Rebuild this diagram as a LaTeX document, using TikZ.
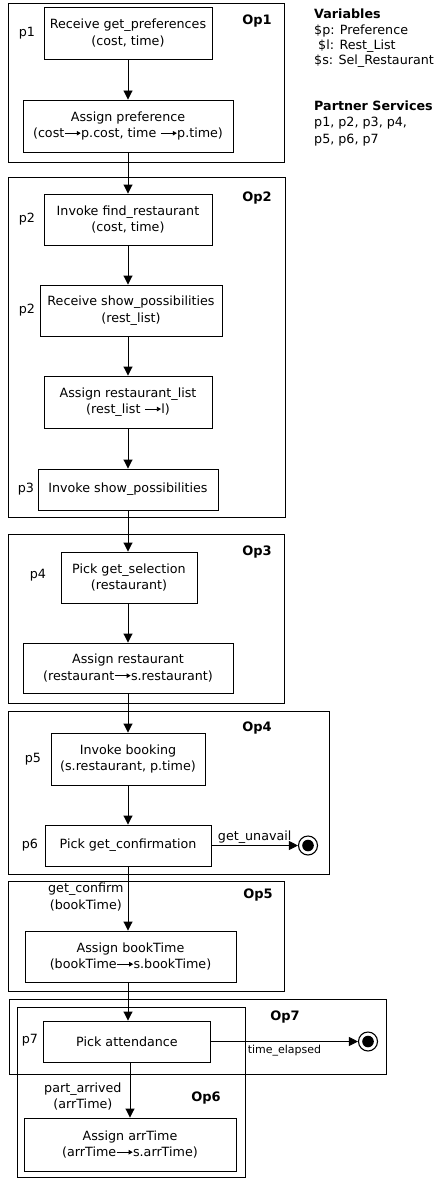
\documentclass[tikz,border=0pt]{standalone}
\usepackage{fontspec}
\setmainfont{DejaVu Sans}
\usetikzlibrary{arrows.meta}
% small assignment arrow used inside the activity labels
\newcommand\asgn{\tikz[baseline=-4.6pt]\draw[line width=0.8pt,-{Triangle[length=4pt,width=4.5pt]}] (0pt,0pt)--(16pt,0pt);}
\begin{document}
\begin{tikzpicture}[x=1pt,y=-1pt,
  txt/.style={font=\fontsize{12.7}{16.6}\selectfont},
  act/.style={draw, line width=0.9pt, align=center, inner sep=0pt, txt},
  opbox/.style={draw, line width=1pt, anchor=north west, inner sep=0pt},
  oplbl/.style={font=\fontsize{13}{15}\selectfont\bfseries},
  plbl/.style={txt},
  side/.style={txt, anchor=base west, inner sep=0pt},
  arr/.style={line width=0.9pt, -{Triangle[length=9pt,width=9pt]}},
  final/.style={circle, draw, line width=1.1pt, minimum size=19pt, inner sep=0pt,
    path picture={\fill (path picture bounding box.center) circle (5.8pt);}},
]
\useasboundingbox (0,0) rectangle (447,1180);

% operation frames
\node[opbox, minimum width=276pt, minimum height=159pt] (op1) at (8,3) {};
\node[opbox, minimum width=277pt, minimum height=340pt] (op2) at (8,177) {};
\node[opbox, minimum width=276pt, minimum height=169pt] (op3) at (8,534) {};
\node[opbox, minimum width=321pt, minimum height=163pt] (op4) at (8,711) {};
\node[opbox, minimum width=276pt, minimum height=110pt] (op5) at (8,881) {};
\node[opbox, minimum width=377pt, minimum height=75pt] (op7) at (9,999) {};
\node[opbox, minimum width=228pt, minimum height=170pt] (op6) at (17,1007) {};

\node[oplbl] (op1l) at (257,21) {Op1};
\node[oplbl] (op2l) at (257,198) {Op2};
\node[oplbl] (op3l) at (257,552) {Op3};
\node[oplbl] (op4l) at (257,728) {Op4};
\node[oplbl] (op5l) at (258,895) {Op5};
\node[oplbl] (op7l) at (285,1017) {Op7};
\node[oplbl] (op6l) at (206,1098) {Op6};

% activities
\node[act, minimum width=168pt, minimum height=52pt] (rgp) at (128,33) {Receive get\_preferences\\(cost, time)};
\node[act, minimum width=210pt, minimum height=52pt] (apref) at (128,126) {Assign preference\\(cost\asgn p.cost, time \asgn p.time)};
\node[act, minimum width=168pt, minimum height=51pt] (ifr) at (128,219.5) {Invoke find\_restaurant\\(cost, time)};
\node[act, minimum width=182pt, minimum height=51pt] (rsp) at (131,310.5) {Receive show\_possibilities\\(rest\_list)};
\node[act, minimum width=168pt, minimum height=52pt] (arl) at (128,402) {Assign restaurant\_list\\(rest\_list \asgn l)};
\node[act, minimum width=180pt, minimum height=41pt] (isp) at (128,489.5) {Invoke show\_possibilities};
\node[act, minimum width=136pt, minimum height=51pt] (pgs) at (129,577.5) {Pick get\_selection\\(restaurant)};
\node[act, minimum width=210pt, minimum height=50pt] (ares) at (128,668) {Assign restaurant\\(restaurant\asgn s.restaurant)};
\node[act, minimum width=154pt, minimum height=52pt] (ibk) at (128,759) {Invoke booking\\(s.restaurant, p.time)};
\node[act, minimum width=166pt, minimum height=41pt] (pgc) at (128,845.5) {Pick get\_confirmation};
\node[act, minimum width=211pt, minimum height=51pt] (abt) at (130.5,956.5) {Assign bookTime\\(bookTime\asgn s.bookTime)};
\node[act, minimum width=167pt, minimum height=41pt] (pat) at (127,1041.5) {Pick attendance};
\node[act, minimum width=212pt, minimum height=53pt] (aat) at (130,1144.5) {Assign arrTime\\(arrTime\asgn s.arrTime)};

% partner labels
\node[plbl] (l1) at (27,33) {p1};
\node[plbl] (l2) at (27,219) {p2};
\node[plbl] (l2b) at (27,310) {p2};
\node[plbl] (l3) at (26,489) {p3};
\node[plbl] (l4) at (38,575) {p4};
\node[plbl] (l5) at (33,759) {p5};
\node[plbl] (l6) at (30,845) {p6};
\node[plbl] (l7) at (30,1040) {p7};

% final states
\node[final] (f1) at (308,845.5) {};
\node[final] (f2) at (368,1041.5) {};

% control flow
\draw[arr] (rgp.south) -- (apref.north);
\draw[arr] (apref.south) -- (ifr.north);
\draw[arr] (ifr.south) -- (ifr.south |- rsp.north);
\draw[arr] (ifr.south |- rsp.south) -- (arl.north);
\draw[arr] (arl.south) -- (isp.north);
\draw[arr] (isp.south) -- (isp.south |- pgs.north);
\draw[arr] (isp.south |- pgs.south) -- (ares.north);
\draw[arr] (ares.south) -- (ibk.north);
\draw[arr] (ibk.south) -- (pgc.north);
\draw[arr] (pgc.south) -- node[txt, pos=0.48, anchor=east, align=center, inner sep=4pt] (gc) {get\_confirm\\(bookTime)} (pgc.south |- abt.north);
\draw[arr] (pgc.south |- abt.south) -- (pgc.south |- pat.north);
\draw[arr] (aat.north |- pat.south) -- node[txt, pos=0.62, anchor=east, align=center, inner sep=8pt] (pa) {part\_arrived\\(arrTime)} (aat.north);
\draw[arr] (pgc.east) -- node[txt, above, inner sep=2pt] (gu) {get\_unavail} (f1.west);
\draw[arr] (pat.east) -- node[font=\fontsize{11}{13}\selectfont, below, inner sep=3pt] (te) {time\_elapsed} (f2.west);

% declarations
\node[side, font={\fontsize{12.7}{15}\selectfont\bfseries}] (v0) at (314,19) {Variables};
\node[side] (v1) at (314,35) {\$p: Preference};
\node[side] (v2) at (314,50) {\ \$l: Rest\_List};
\node[side] (v3) at (314,64.5) {\$s: Sel\_Restaurant};
\node[side, font={\fontsize{12.7}{15}\selectfont\bfseries}] (s0) at (314,111) {Partner Services};
\node[side] (s1) at (314,127) {p1, p2, p3, p4,};
\node[side] (s2) at (314,143) {p5, p6, p7};
\end{tikzpicture}
\end{document}
